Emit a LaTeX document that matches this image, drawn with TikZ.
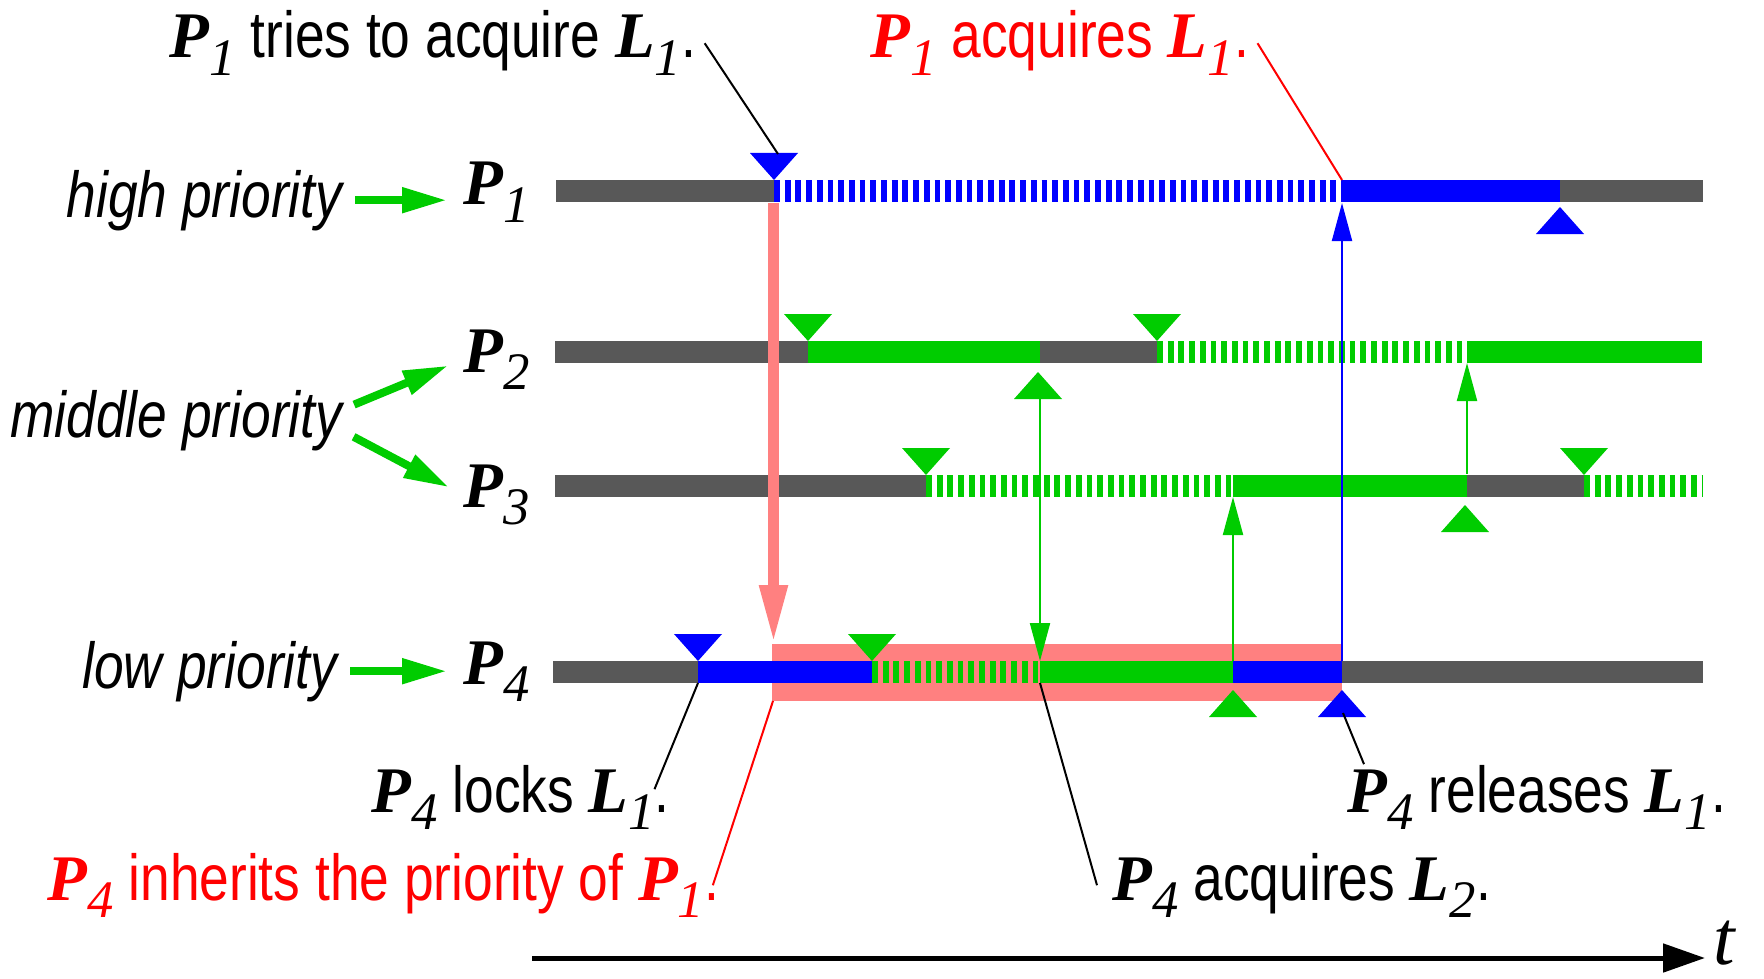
\documentclass[tikz,border=0pt]{standalone}
\usepackage{fontspec}
\setmainfont{Liberation Sans}[FakeStretch=0.82]
\newfontfamily\varfont{Liberation Serif}
\usetikzlibrary{arrows.meta}
\definecolor{barGrey}{RGB}{88,88,88}
\definecolor{runGreen}{RGB}{0,204,0}
\definecolor{inhPink}{RGB}{255,128,128}
\newcommand\ivar[2]{{\varfont\bfseries\itshape #1\raisebox{-5pt}{\mdseries\fontsize{15}{15}\selectfont #2}}}
\tikzset{
	bar/.style={line width=2.2mm},
	idle/.style={bar,barGrey},
	lock/.style={bar,blue},
	run/.style={bar,runGreen},
	lockwait/.style={bar,blue,dash pattern=on 0.58mm off 0.49mm},
	runwait/.style={bar,runGreen,dash pattern=on 0.58mm off 0.49mm},
	tridown/.pic={\fill (-0.24,-0.27)--(0.24,-0.27)--(0,0)--cycle;},
	triup/.pic={\fill (0,0)--(0.24,0.27)--(-0.24,0.27)--cycle;},
	txt/.style={inner sep=0pt,anchor=base west},
	prio/.style={runGreen,line width=0.8mm,-{Triangle[length=4.5mm,width=2.4mm]},shorten <=1.2mm,shorten >=1.6mm},
	signal/.style={line width=0.2mm,-{Triangle[length=3.8mm,width=2mm]}},
	leader/.style={line width=0.2mm}
}
\begin{document}
\begin{tikzpicture}[x=1cm,y=-1cm,font=\fontsize{18.5}{22}\selectfont]
			\useasboundingbox (0,0) rectangle (17.64,9.79);
			\fill[inhPink] (7.72,6.44) rectangle (13.42,7.01);
			\foreach \a/\b/\s in {5.56/7.74/idle,7.74/13.42/lockwait,13.42/15.60/lock,15.60/17.03/idle}
			\draw[\s] (\a,1.91)--(\b,1.91);
			\foreach \a/\b/\s in {5.55/8.08/idle,8.08/10.40/run,10.40/11.57/idle,11.57/14.67/runwait,14.67/17.02/run}
			\draw[\s] (\a,3.52)--(\b,3.52);
			\foreach \a/\b/\s in {5.55/9.26/idle,9.26/12.33/runwait,12.33/14.67/run,14.67/15.84/idle,15.84/17.02/runwait}
			\draw[\s] (\a,4.86)--(\b,4.86);
			\foreach \a/\b/\s in {5.53/6.98/idle,6.98/8.72/lock,8.72/10.40/runwait,10.40/12.33/run,12.33/13.42/lock,13.42/17.03/idle}
			\draw[\s] (\a,6.72)--(\b,6.72);
			\foreach \x/\y/\c in {7.74/1.80/blue,8.08/3.41/runGreen,11.57/3.41/runGreen,9.26/4.75/runGreen,15.84/4.75/runGreen,6.98/6.61/blue,8.72/6.61/runGreen}
			\pic[\c] at (\x,\y) {tridown};
			\foreach \x/\y/\c in {15.60/2.07/blue,10.38/3.72/runGreen,14.65/5.05/runGreen,12.33/6.90/runGreen,13.42/6.90/blue}
			\pic[\c] at (\x,\y) {triup};
			\coordinate (tryev) at (7.78,1.54);
			\coordinate (gotev) at (13.42,1.80);
			\coordinate (inh0) at (7.735,2.03);
			\coordinate (inh1) at (7.735,6.44);
			\coordinate (rel0) at (13.42,6.61);
			\coordinate (rel1) at (13.42,2.03);
			\coordinate (done2) at (10.40,3.98);
			\coordinate (wake4) at (10.40,6.61);
			\coordinate (acq0) at (12.33,6.61);
			\coordinate (acq1) at (12.33,4.97);
			\coordinate (end3) at (14.67,4.74);
			\coordinate (wake2) at (14.67,3.63);
			\coordinate (lockev) at (6.98,6.83);
			\coordinate (inhev) at (7.73,7.01);
			\coordinate (acq2ev) at (10.40,6.83);
			\coordinate (relev) at (13.43,7.13);
			\coordinate (t0) at (5.32,9.58);
			\coordinate (t1) at (17.05,9.58);
			\draw[inhPink,line width=1.1mm,-{Triangle[length=5.9mm,width=2.6mm]}] (inh0)--(inh1);
			\draw[signal,blue] (rel0)--(rel1);
			\draw[signal,runGreen] (done2)--(wake4);
			\draw[signal,runGreen] (acq0)--(acq1);
			\draw[signal,runGreen] (end3)--(wake2);
			\node[inner sep=0pt,anchor=base east] (high) at (3.43,2.17) {\itshape high priority};
			\node[inner sep=0pt,anchor=base east] (middle) at (3.43,4.37) {\itshape middle priority};
			\node[inner sep=0pt,anchor=base east] (low) at (3.38,6.88) {\itshape low priority};
			\node[txt] (p1) at (4.63,2.05) {\ivar{P}{1}};
			\node[txt] (p2) at (4.63,3.72) {\ivar{P}{2}};
			\node[txt] (p3) at (4.63,5.07) {\ivar{P}{3}};
			\node[txt] (p4) at (4.63,6.84) {\ivar{P}{4}};
			\draw[prio] (high.east)--(high.east -| p1.west);
			\draw[prio] ([yshift=1.1mm]middle.east)--(p2.west);
			\draw[prio] ([yshift=-1.1mm]middle.east)--(p3.west);
			\draw[prio] (low.east)--(low.east -| p4.west);
			\node[txt] (try) at (1.69,0.58) {\ivar{P}{1} tries to acquire \ivar{L}{1}.};
			\node[txt,red] (got) at (8.70,0.58) {\ivar{P}{1} acquires \ivar{L}{1}.};
			\node[txt] (lockt) at (3.71,8.12) {\ivar{P}{4} locks \ivar{L}{1}.};
			\node[txt,red] (inherit) at (0.47,9.00) {\ivar{P}{4} inherits the priority of \ivar{P}{1}.};
			\node[txt] (acq2) at (11.12,9.00) {\ivar{P}{4} acquires \ivar{L}{2}.};
			\node[txt] (release) at (13.47,8.12) {\ivar{P}{4} releases \ivar{L}{1}.};
			\node[txt] (taxis) at (17.13,9.64) {\varfont\itshape\fontsize{22}{24}\selectfont t};
			\draw[leader] ([xshift=0.8mm]try.east)--(tryev);
			\draw[leader,red] ([xshift=0.8mm]got.east)--(gotev);
			\draw[leader] (lockev)--([shift={(-1.6mm,0.8mm)}]lockt.east);
			\draw[leader,red] (inhev)--([xshift=-0.7mm]inherit.east);
			\draw[leader] (acq2ev)--([xshift=-1.5mm]acq2.west);
			\draw[leader] (relev)--([xshift=1.7mm]release.north west);
			\draw[line width=0.5mm,-{Triangle[length=4.2mm,width=2.8mm]}] (t0)--(t1);
		\end{tikzpicture}
\end{document}
